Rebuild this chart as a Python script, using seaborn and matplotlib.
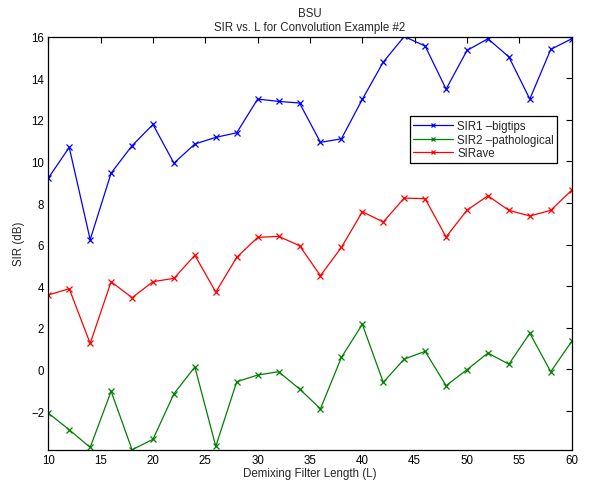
import matplotlib
matplotlib.use("Agg")
import matplotlib.pyplot as plt
import numpy as np
import pandas as pd
import seaborn as sns

# Demixing filter lengths
filter_length = [10, 12, 14, 16, 18, 20, 22, 24, 26, 28, 30, 32, 34,
                 36, 38, 40, 42, 44, 46, 48, 50, 52, 54, 56, 58, 60]

# SIR per source and the average (dB)
sir1_bigtips = [9.20, 10.68, 6.24, 9.44, 10.76, 11.78, 9.92, 10.84, 11.16, 11.38,
                13.00, 12.89, 12.81, 10.92, 11.09, 12.99, 14.78, 16.01, 15.55, 13.48,
                15.34, 15.90, 15.03, 13.00, 15.39, 15.90]
sir2_pathological = [-2.10, -2.90, -3.75, -1.05, -3.86, -3.36, -1.17, 0.12, -3.70, -0.59,
                     -0.27, -0.11, -0.94, -1.89, 0.58, 2.17, -0.62, 0.50, 0.87, -0.78,
                     -0.01, 0.79, 0.25, 1.74, -0.11, 1.35]
sir_ave = [3.58, 3.88, 1.25, 4.22, 3.45, 4.22, 4.38, 5.49, 3.72, 5.39,
           6.35, 6.40, 5.95, 4.51, 5.87, 7.58, 7.09, 8.24, 8.21, 6.37,
           7.66, 8.35, 7.65, 7.38, 7.65, 8.62]

series_names = ["SIR1 \u2013bigtips", "SIR2 \u2013pathological", "SIRave"]
series_colors = ["#0000ff", "#008000", "#ff0000"]

df = pd.concat([
    pd.DataFrame({"L": filter_length, "SIR": vals, "series": name})
    for name, vals in zip(series_names, [sir1_bigtips, sir2_pathological, sir_ave])
], ignore_index=True)

sns.set_theme(style="white")
plt.rcParams["font.family"] = ["Liberation Sans", "DejaVu Sans"]
FS = 8.3
plt.rcParams["font.size"] = FS

fig = plt.figure(figsize=(5.92, 4.89), dpi=100)
ax = fig.add_axes([0.0816, 0.0783, 0.8841, 0.8446])

sns.lineplot(data=df, x="L", y="SIR", hue="series", style="series",
             palette=dict(zip(series_names, series_colors)),
             markers={n: "x" for n in series_names}, dashes=False,
             linewidth=0.9, markersize=4.5, markeredgewidth=0.9,
             ax=ax, legend=True)

# x markers take the colour of their line
for ln in ax.lines:
    ln.set_markeredgecolor(ln.get_color())

ax.set_xlim(10, 60)
ax.set_ylim(-3.86, 16.0)
ax.set_xticks(np.arange(10, 61, 5))
ax.set_yticks(np.arange(-2, 17, 2))
ax.set_yticklabels([("\u22122" if t == -2 else str(t)) for t in range(-2, 17, 2)])
ax.tick_params(direction="in", length=4, width=0.8, top=True, right=True,
               labelsize=FS, colors="black", pad=3)
for sp in ax.spines.values():
    sp.set_color("black")
    sp.set_linewidth(0.9)

ax.set_xlabel("Demixing Filter Length (L)", fontsize=FS, labelpad=1)
ax.set_ylabel("SIR (dB)", fontsize=FS, labelpad=4)
ax.set_title("BSU\nSIR vs. L for Convolution Example #2", fontsize=FS,
             linespacing=1.2, pad=5)

handles, labels = ax.get_legend_handles_labels()
for h in handles:
    h.set_markeredgecolor(h.get_color())
    h.set_markersize(3.5)
leg = ax.legend(handles, labels, loc="upper left", bbox_to_anchor=(0.691, 0.807),
                fontsize=FS, frameon=True, fancybox=False, framealpha=1,
                edgecolor="black", handlelength=3.4, borderpad=0.3,
                labelspacing=0.15, handletextpad=0.4, borderaxespad=0)
leg.get_frame().set_linewidth(0.9)

fig.savefig("out.png", dpi=100, facecolor="white")
